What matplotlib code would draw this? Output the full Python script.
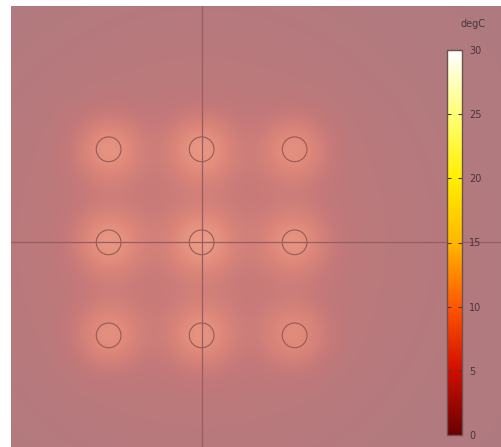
import numpy as np
import matplotlib
matplotlib.use("Agg")
import matplotlib.pyplot as plt
from matplotlib.colors import LinearSegmentedColormap, Normalize
from matplotlib.patches import Circle
import matplotlib.cm as cm

# hole layout (mm) and field settings
hole_x = [-10, 0, 10, -10, 0, 10, -10, 0, 10]
hole_y = [10, 10, 10, 0, 0, 0, -10, -10, -10]
hole_r = 1.33
hole_peak = [0.6, 0.6, 0.55, 0.6, 0.6, 0.55, 0.55, 0.55, 0.5]
x_lim = (-20.5, 32.3)
y_lim = (-22.0, 25.4)
cbar_ticks = [0, 5, 10, 15, 20, 25, 30]
t_min, t_max = 0, 30

# field colours (muted) and legend colours (thermal)
field_cmap = LinearSegmentedColormap.from_list("field", [
    (0.0, (174/255, 123/255, 128/255)),
    (0.35, (196/255, 120/255, 121/255)),
    (0.7, (222/255, 135/255, 122/255)),
    (1.0, (236/255, 156/255, 134/255)),
])
thermal = LinearSegmentedColormap.from_list("thermal", [
    (0.0, (0.42, 0.0, 0.0)),
    (0.17, (0.82, 0.06, 0.0)),
    (0.33, (1.0, 0.33, 0.0)),
    (0.5, (1.0, 0.72, 0.0)),
    (0.67, (1.0, 0.94, 0.0)),
    (0.83, (1.0, 1.0, 0.45)),
    (1.0, (1.0, 1.0, 1.0)),
])

xs = np.linspace(*x_lim, 500)
ys = np.linspace(*y_lim, 450)
X, Y = np.meshgrid(xs, ys)
field = 0.38 * np.exp(-(X**2 + Y**2) / (2 * 17.0**2))
for hx, hy, p in zip(hole_x, hole_y, hole_peak):
    r2 = (X - hx)**2 + (Y - hy)**2
    field += p * np.exp(-r2 / (2 * 2.6**2))
field = np.clip(field, 0, 1)

fig = plt.figure(figsize=(5.02, 4.47), dpi=100)
ax = fig.add_axes([11/502, 0, 491/502, 441/447])
ax.imshow(field, extent=(*x_lim, *y_lim), origin="lower", cmap=field_cmap,
          vmin=0, vmax=1, aspect="auto", interpolation="bilinear")
line_col = (148/255, 94/255, 98/255)
ax.axvline(0, color=line_col, lw=0.9)
ax.axhline(0, color=line_col, lw=0.9)
for hx, hy in zip(hole_x, hole_y):
    ax.add_patch(Circle((hx, hy), hole_r, fill=False,
                        ec=(150/255, 90/255, 86/255), lw=0.8))
ax.set_xlim(*x_lim)
ax.set_ylim(*y_lim)
ax.axis("off")

# colour legend
text_col = (70/255, 52/255, 62/255)
cax = fig.add_axes([447/502, 12/447, 15/502, 385/447])
cb = fig.colorbar(cm.ScalarMappable(norm=Normalize(t_min, t_max), cmap=thermal),
                  cax=cax, ticks=cbar_ticks)
cb.outline.set_edgecolor((110/255, 80/255, 80/255))
cb.outline.set_linewidth(1)
cax.tick_params(direction="in", length=3, width=0.8, color=text_col,
                left=True, right=True, labelsize=7, labelcolor=text_col, pad=5)
fig.text(473/502, 1 - 24/447, "degC", fontsize=7, color=text_col,
         ha="center", va="center")

fig.savefig("out.png", dpi=100)
